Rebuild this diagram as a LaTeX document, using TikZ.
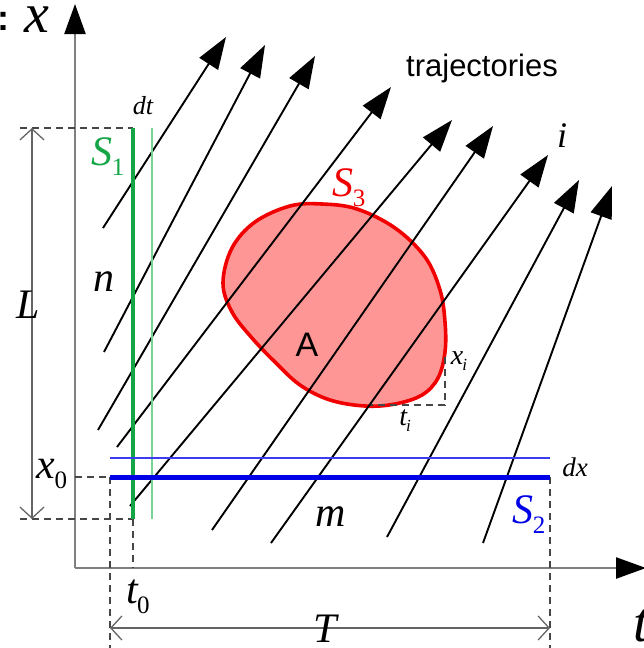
\documentclass[tikz,border=0pt]{standalone}
\usepackage{fontspec}
\setmainfont{Liberation Serif}
\newfontfamily\sansf{Liberation Sans}
\usetikzlibrary{arrows.meta}
\definecolor{axgray}{RGB}{128,128,128}
\definecolor{dimgray}{RGB}{100,100,100}
\definecolor{dashgray}{RGB}{70,70,70}
\definecolor{gthick}{RGB}{20,165,70}
\definecolor{gthin}{RGB}{120,210,150}
\definecolor{bthick}{RGB}{0,0,230}
\definecolor{bthin}{RGB}{60,60,240}
\definecolor{blobfill}{RGB}{255,150,150}
\definecolor{blobline}{RGB}{240,0,0}
\newcommand\biglab[1]{\fontsize{42}{42}\selectfont\itshape #1}
\newcommand\sbs[3][25]{\fontsize{42}{42}\selectfont{\itshape #2}\kern-1pt\raisebox{-10pt}{\fontsize{#1}{#1}\selectfont\upshape #3}}
\begin{document}
\begin{tikzpicture}[x=1pt,y=-1pt,
  axis/.style={draw=axgray,line width=2.4pt,-{Triangle[length=30pt,width=21pt,color=black,fill=black]}},
  dimline/.style={draw=dimgray,line width=1.3pt,{Straight Barb[length=11pt,width=24pt]}-{Straight Barb[length=11pt,width=24pt]}},
  guide/.style={draw=dashgray,line width=1.4pt,dash pattern=on 7pt off 5pt},
  traj/.style={draw=black,line width=1.9pt,-{Triangle[length=32pt,width=22pt]}},
  lab/.style={inner sep=0pt}]
\useasboundingbox (0,0) rectangle (644,648);

% axes
\coordinate (O) at (75,568);
\coordinate (xtip) at (75,4);
\coordinate (ttip) at (646,568);
\draw[axis] (O) -- (xtip);
\draw[axis] (O) -- (ttip);

% guide (dashed) lines
\coordinate (Ltop) at (20,128);
\coordinate (S1top) at (133,128);
\coordinate (Lbot) at (20,519);
\coordinate (S1bot) at (133,519);
\coordinate (x0ax) at (75,477);
\coordinate (S2left) at (110,477);
\coordinate (S2right) at (550,477);
\coordinate (t0bot) at (110,648);
\coordinate (Tbot) at (550,648);
\coordinate (t1ax) at (133,568);
\draw[guide] (Ltop) -- (S1top);
\draw[guide] (Lbot) -- (S1bot);
\draw[guide] (x0ax) -- (S2left);
\draw[guide] (S2left) -- (t0bot);
\draw[guide] (S1bot) -- (t1ax);
\draw[guide] (S2right) -- (Tbot);

% dimension lines
\coordinate (Lup) at (32,128);
\coordinate (Ldn) at (32,519);
\coordinate (Tl) at (110,628);
\coordinate (Tr) at (550,628);
\draw[dimline] (Lup) -- (Ldn);
\draw[dimline] (Tl) -- (Tr);

% region A
\draw[fill=blobfill,draw=blobline,line width=3.6pt]
  plot[smooth cycle,tension=0.6] coordinates {
  (223,283) (232,248) (255,222) (290,206) (322,204) (357,209) (395,228)
  (425,257) (440,290) (445,322) (445,352) (438,378) (422,395) (395,404)
  (365,406) (330,400) (300,385) (275,362) (252,338) (232,312)};
\coordinate (ximark) at (445,357);
\coordinate (corner) at (445,405);
\coordinate (timark) at (370,405);
\draw[guide] (ximark) -- (corner) -- (timark);

% trajectories
\foreach \i/\sx/\sy/\ex/\ey in {
  1/103/228/226/37,
  2/104/352/265/45,
  3/98/430/315/56,
  4/117/447/391/87,
  5/130/506/452/120,
  6/212/530/493/126,
  7/271/543/548/155,
  8/387/537/579/180,
  9/483/543/612/186}{
  \coordinate (s\i) at (\sx,\sy);
  \coordinate (e\i) at (\ex,\ey);
  \draw[traj] (s\i) -- (e\i);
}

% S1 and S2 strips
\coordinate (g2top) at (152,128);
\coordinate (g2bot) at (152,519);
\coordinate (b2l) at (110,458);
\coordinate (b2r) at (550,458);
\draw[gthin,line width=2pt] (g2top) -- (g2bot);
\draw[gthick,line width=4.5pt] (S1top) -- (S1bot);
\draw[bthin,line width=1.5pt] (b2l) -- (b2r);
\draw[bthick,line width=5pt] (S2left) -- (S2right);

% labels
\node[lab] (colon) at (3,21) {\sansf\bfseries\fontsize{36}{36}\selectfont :};
\node[lab] (xl) at (37,20) {\fontsize{56}{56}\selectfont\itshape x};
\node[lab] (tl) at (641,626) {\fontsize{56}{56}\selectfont\itshape t};
\node[lab] (Ll) at (28,305) {\biglab{L}};
\node[lab] (Tlab) at (325,629) {\biglab{T}};
\node[lab] (nl) at (104,282) {\biglab{n}};
\node[lab] (ml) at (331,517) {\biglab{m}};
\node[lab] (S1l) at (108,157) {\color{gthick}\sbs{S}{1}};
\node[lab] (S2l) at (529,515) {\color{bthick}\sbs{S}{2}};
\node[lab] (S3l) at (349,188) {\color{blobline}\sbs{S}{3}};
\node[lab] (x0l) at (52,474) {\sbs{x}{0}};
\node[lab] (t0l) at (138,597) {\sbs{t}{0}};
\node[lab] (il) at (562,136) {\fontsize{36}{36}\selectfont\itshape i};
\node[lab] (dtl) at (143,106) {\fontsize{26}{26}\selectfont\itshape dt};
\node[lab] (dxl) at (575,467) {\fontsize{27}{27}\selectfont\itshape dx};
\node[lab] (xil) at (459,361) {\fontsize{28}{28}\selectfont\itshape x\kern-1pt\raisebox{-6pt}{\fontsize{17}{17}\selectfont i}};
\node[lab] (til) at (405,421) {\fontsize{28}{28}\selectfont\itshape t\kern-1pt\raisebox{-6pt}{\fontsize{17}{17}\selectfont i}};
\node[lab] (Al) at (307,345) {\sansf\fontsize{34}{34}\selectfont A};
\node[lab] (trl) at (482,68) {\sansf\fontsize{31}{31}\selectfont trajectories};
\end{tikzpicture}
\end{document}
